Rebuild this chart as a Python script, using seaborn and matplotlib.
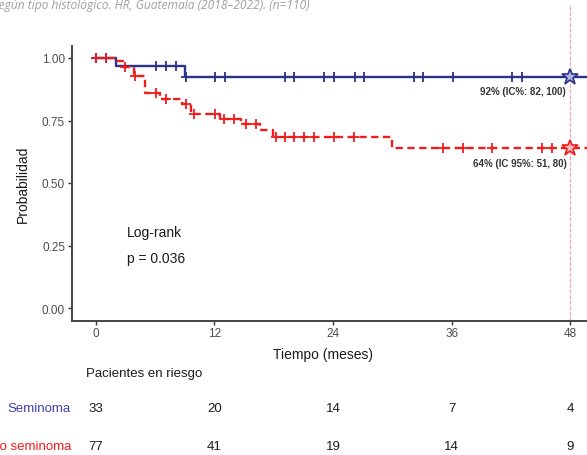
import numpy as np
import pandas as pd
import matplotlib
matplotlib.use("Agg")
import matplotlib.pyplot as plt
import matplotlib.transforms as mtransforms
import seaborn as sns

# Kaplan-Meier steps
sem_times = [0, 2.0, 9.0]
sem_surv = [1.0, 0.967, 0.924]
sem_cens = [0, 1.0, 6.1, 7.1, 8.1, 9.1, 12.05, 13.05, 19.1, 20.1, 23.1, 24.1,
            26.2, 27.1, 32.2, 33.1, 36.1, 42.1, 43.1]

nosem_times = [0, 2.0, 2.8, 3.9, 5.0, 6.5, 8.7, 9.6, 12.6, 14.7, 16.6, 17.9, 30.0]
nosem_surv = [1.0, 0.987, 0.963, 0.929, 0.860, 0.836, 0.816, 0.778, 0.756,
              0.736, 0.712, 0.684, 0.641]
nosem_cens = [0, 1.0, 3.0, 4.0, 6.1, 7.1, 9.1, 9.9, 12.1, 13.0, 14.0, 15.2, 16.2,
              18.2, 19.1, 20.1, 21.1, 22.1, 24.1, 26.1, 35.1, 37.1, 40.1, 45.1, 46.2]

t_star = 48
sem_label = "92% (IC%: 82, 100)"
nosem_label = "64% (IC 95%: 51, 80)"

risk_times = [0, 12, 24, 36, 48]
risk_sem = [33, 20, 14, 7, 4]
risk_nosem = [77, 41, 19, 14, 9]

groups = ["Seminoma", "No seminoma"]
title_head = "Supervivencia global s"
title_tail = "egún tipo histológico. HR, Guatemala (2018–2022). (n=110)"

navy = "#2B3289"
red = "#F01C1C"

sns.set_theme(style="white")
plt.rcParams["font.family"] = ["Liberation Sans", "DejaVu Sans"]

fig = plt.figure(figsize=(5.87, 4.56), dpi=100)
ax = fig.add_axes([72 / 587, 134.5 / 456, 522 / 587, 275 / 456])
xmax = 50.4
ax.set_xlim(-2.4, xmax)
ax.set_ylim(-0.05, 1.05)


def step_at(times, surv, t):
    i = np.searchsorted(times, t, side="right") - 1
    return surv[i]


curves = [
    (sem_times, sem_surv, sem_cens, navy, "-"),
    (nosem_times, nosem_surv, nosem_cens, red, (0, (3.1, 1.9))),
]
for times, surv, cens, col, ls in curves:
    df = pd.DataFrame({"t": list(times) + [xmax], "s": list(surv) + [surv[-1]]})
    sns.lineplot(data=df, x="t", y="s", drawstyle="steps-post", color=col,
                 linewidth=1.7, linestyle=ls, ax=ax)
    cdf = pd.DataFrame({"t": cens, "s": [step_at(times, surv, c) for c in cens]})
    sns.scatterplot(data=cdf, x="t", y="s", marker="+", s=45, color=col,
                    linewidth=1.3, ax=ax, zorder=4)

# stars at 48 months
ax.plot(t_star, step_at(sem_times, sem_surv, t_star), marker="*", ms=12,
        mfc="#B4B4E6", mec=navy, mew=1.2, zorder=5)
ax.plot(t_star, step_at(nosem_times, nosem_surv, t_star), marker="*", ms=12,
        mfc="#FFB8B8", mec=red, mew=1.2, zorder=5)
ax.axvline(t_star, ymin=0, ymax=1.15, color="#F5A9C9", lw=1.0,
           linestyle=(0, (3, 1)), clip_on=False, zorder=1)

ax.text(47.5, 0.868, sem_label, ha="right", va="center", fontsize=7,
        fontweight="bold", color="#333333")
ax.text(47.7, 0.58, nosem_label, ha="right", va="center", fontsize=7,
        fontweight="bold", color="#333333")

ax.text(3.2, 0.304, "Log-rank", ha="left", va="center", fontsize=10, color="#1a1a1a")
ax.text(3.2, 0.20, "p = 0.036", ha="left", va="center", fontsize=10, color="#1a1a1a")

ax.set_xticks(risk_times)
ax.set_yticks([0, 0.25, 0.5, 0.75, 1.0])
ax.set_yticklabels(["0.00", "0.25", "0.50", "0.75", "1.00"])
ax.tick_params(axis="both", labelsize=8.5, labelcolor="#4D4D4D", length=3,
               width=1, color="#333333", direction="out", left=True, bottom=True, pad=2)
for side in ["top", "right"]:
    ax.spines[side].set_visible(False)
for side in ["left", "bottom"]:
    ax.spines[side].set_color("#444444")
    ax.spines[side].set_linewidth(1.4)

ax.set_xlabel("Tiempo (meses)", fontsize=10, color="#1a1a1a")
ax.set_ylabel("Probabilidad", fontsize=10, color="#1a1a1a")
ax.xaxis.label.set_va("center")
ax.yaxis.label.set_va("center")
ax.xaxis.set_label_coords((323 - 72) / 522, (321.5 - 355) / 275)
ax.yaxis.set_label_coords((22.7 - 72) / 522, 0.5)

# risk table
trans = mtransforms.blended_transform_factory(ax.transData, ax.transAxes)
ax.text(-1.0, (321.5 - 374) / 275, "Pacientes en riesgo", transform=trans,
        ha="left", va="center", fontsize=9.5, color="#1a1a1a")
rows = [(groups[0], risk_sem, "#4040B0", 409), (groups[1], risk_nosem, "#F01C1C", 447)]
for name, vals, col, ypx in rows:
    yy = (321.5 - ypx) / 275
    ax.text(-0.002, yy, name, transform=ax.transAxes, ha="right", va="center",
            fontsize=9.5, color=col, clip_on=False)
    for t, v in zip(risk_times, vals):
        ax.text(t, yy, str(v), transform=trans, ha="center", va="center",
                fontsize=9.5, color="#1a1a1a", clip_on=False)

# title, partly cut off on the left as in the source; size it so the visible
# part spans ~310 px
tkw = dict(fontstyle="italic", color="#A0A0A0", family=["Open Sans", "DejaVu Sans"],
           va="baseline")
rend = fig.canvas.get_renderer()
probe = fig.text(0, 0, title_tail, fontsize=10, **tkw)
w10 = probe.get_window_extent(rend).width
probe.remove()
fs = 10 * 312 / w10
fig.text(310 / 587, 1 - 8.5 / 456, title_head + title_tail, ha="right",
         fontsize=fs, **tkw)

fig.savefig("out.png", dpi=100)
